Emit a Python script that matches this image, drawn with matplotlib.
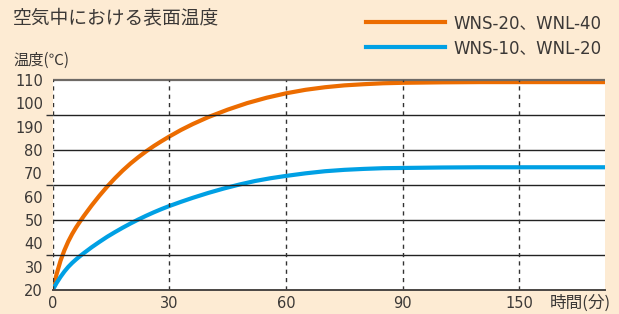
import matplotlib
matplotlib.use("Agg")
import matplotlib.pyplot as plt

plt.rcParams['font.family'] = ['DejaVu Sans', 'Noto Sans CJK JP']

# values (minutes -> degrees C)
t_orange = [0, 1, 2, 3, 4, 5, 6, 7, 8, 10, 12, 14, 16, 18, 20, 22, 24, 26, 28, 30,
            33, 36, 40, 45, 50, 55, 60, 65, 70, 75, 80, 85, 90, 100, 110, 120, 130, 142]
temp_orange = [20, 26.8, 32.5, 37, 40.8, 44, 46.8, 49.3, 51.7, 56.2, 60.4, 64.3, 67.9,
               71.2, 74.2, 76.9, 79.4, 81.7, 83.8, 85.8, 88.6, 91.1, 94.1, 97.3, 100.1,
               102.4, 104.3, 105.8, 106.9, 107.7, 108.2, 108.6, 108.8, 109.0, 109.1,
               109.1, 109.1, 109.1]

t_blue = [0, 1, 2, 3, 4, 5, 6, 7, 8, 10, 12, 14, 16, 18, 20, 22, 24, 26, 28, 30, 33,
          36, 40, 44, 48, 52, 56, 60, 65, 70, 75, 80, 85, 90, 100, 110, 120, 130, 142]
temp_blue = [20, 23, 25.6, 27.9, 29.9, 31.6, 33.1, 34.5, 35.8, 38.3, 40.6, 42.8, 44.8,
             46.7, 48.5, 50.2, 51.8, 53.3, 54.7, 56.0, 57.8, 59.5, 61.6, 63.5, 65.2,
             66.7, 67.9, 68.9, 70.0, 70.9, 71.5, 71.9, 72.2, 72.3, 72.5, 72.6, 72.6,
             72.6, 72.6]

series_labels = ["WNS-20、WNL-40", "WNS-10、WNL-20"]

y_ticks = [20, 30, 40, 50, 60, 70, 80, 90, 100, 110]
y_tick_labels = ["20", "30", "40", "50", "60", "70", "80", "190", "100", "110"]
grid_y = [20, 35, 50, 65, 80, 95, 110]
x_ticks = [0, 30, 60, 90, 120]
x_tick_labels = ["0", "30", "60", "90", "150"]

bg = "#fdebd3"
txt = "#3b3836"
orange = "#ec6c00"
blue = "#00a0e4"
jp = ['Noto Sans CJK JP', 'DejaVu Sans']

fig = plt.figure(figsize=(6.19, 3.14), dpi=100, facecolor=bg)
ax = fig.add_axes([52.7 / 619, 24 / 314, (605 - 52.7) / 619, 210 / 314])
ax.set_facecolor("white")

l1, = ax.plot(t_orange, temp_orange, color=orange, lw=3.0, solid_joinstyle="round", zorder=2)
l2, = ax.plot(t_blue, temp_blue, color=blue, lw=3.0, solid_joinstyle="round", zorder=2)

ax.set_xlim(0, 142)
ax.set_ylim(20, 110)

# horizontal rules every 15 degrees, dashed verticals every 30 min
ax.hlines(grid_y[1:-1], 0, 142, colors="#222222", lw=1.0, zorder=3)
ax.hlines([110], 0, 142, colors="#6e6a66", lw=1.6, zorder=3, clip_on=False)
ax.vlines(x_ticks, 20, 110, colors="#333333", lw=1.0, linestyles=(0, (3, 3)), zorder=3)

for s in ["top", "right", "left"]:
    ax.spines[s].set_visible(False)
ax.spines["bottom"].set_color("#4a4644")
ax.spines["bottom"].set_linewidth(1.4)
ax.spines["bottom"].set_zorder(4)

ax.set_yticks(y_ticks)
ax.set_yticklabels(y_tick_labels)
ax.set_yticks(grid_y, minor=True)
ax.tick_params(axis="y", which="major", length=0, pad=7, labelsize=10.5, labelcolor=txt)
ax.tick_params(axis="y", which="minor", length=5, width=1, color="#333333")

ax.set_xticks(x_ticks)
ax.set_xticklabels(x_tick_labels)
ax.tick_params(axis="x", length=0, pad=4.5, labelsize=10.5, labelcolor=txt)

fig.text(611 / 619, 1 - 303 / 314, "時間(分)", ha="right", va="center", fontsize=12,
         color=txt, family=jp)
fig.text(13 / 619, 1 - 19 / 314, "空気中における表面温度", ha="left", va="center",
         fontsize=13.5, color=txt, family=jp)
fig.text(13 / 619, 1 - 60 / 314, "温度(℃)", ha="left", va="center", fontsize=11,
         color=txt, family=jp)

fig.legend([l1, l2], series_labels, loc="upper right",
           bbox_to_anchor=(612 / 619, 1 - 4 / 314),
           frameon=False, fontsize=12, handlelength=4.7, handletextpad=0.55,
           labelspacing=0.4, labelcolor=txt, borderaxespad=0.2)

fig.savefig("out.png", dpi=100, facecolor=bg)
